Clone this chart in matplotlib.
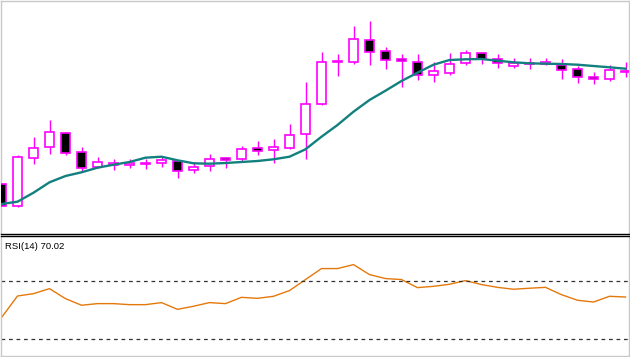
import matplotlib
matplotlib.use("Agg")
import matplotlib.pyplot as plt
import numpy as np

# price data (arbitrary price units)
opens = [56, 33.7, 81.7, 92.7, 106.7, 87.7, 73, 74.7, 75.5, 76.7,
         76.7, 79.5, 69.7, 73.7, 81.7, 80.7, 91.7, 89.7, 91.7, 105.7,
         136.3, 177.7, 178.3, 200, 188.7, 181, 178, 164.7, 167.3, 176.7,
         186.7, 180.7, 174.3, 175.7, 176.2, 175, 170.7, 163.3, 160.7, 168.3]
highs = [56, 85, 103, 120, 108, 93, 83, 81, 80.7, 80.7,
         83, 80, 78.3, 86, 83.3, 94, 99, 100.7, 116, 158,
         188, 186, 214, 219.3, 193, 186, 186, 177.7, 186.7, 189.7,
         187, 186, 182, 181.8, 181.8, 180.7, 174.5, 168.3, 174.7, 178]
lows = [34, 33.5, 75.7, 86.3, 85, 68.3, 72.5, 70.5, 72.5, 70.7,
        73.3, 62.5, 66.7, 69.3, 72.3, 78.7, 85.3, 76.7, 91.5, 81.3,
        135, 164, 176, 175, 171.3, 153.3, 160.3, 157.7, 165.3, 175.3,
        176.3, 172.3, 172.3, 171.2, 175.5, 160.7, 157.3, 155.7, 158.7, 163]
closes = [34.5, 82.7, 92, 107.7, 86.7, 71.7, 77.7, 76.7, 76.7, 75.7,
          80, 68.7, 72.7, 80.7, 79.7, 90.7, 88.7, 92.7, 104.7, 135.7,
          177.7, 178.7, 201, 187.7, 179.7, 178.7, 165.3, 168.7, 175.7, 186.7,
          181.3, 176.7, 177, 177.5, 177.7, 169.7, 162.7, 161, 169.7, 169.5]
ma = [36, 38.3, 47.3, 57.7, 64, 67.7, 72.3, 75.3, 78, 82.3,
      83.3, 79.7, 76.7, 76.3, 77, 78, 79, 80.7, 83.3, 90.7,
      103.3, 115, 128.3, 140, 149.3, 159, 167.3, 175.3, 180, 180.7,
      181, 179.3, 177.7, 176.7, 176.3, 176, 175.3, 174, 172.7, 171.3]
rsi = [44.8, 59.5, 61.1, 64.5, 57.7, 53.2, 54.3, 54.3, 53.6, 53.6,
       55, 50.4, 52.5, 55, 54.3, 58.6, 57.9, 59.3, 63.2, 70.7,
       78.2, 78.2, 80.9, 74.1, 71.4, 70.7, 65.2, 66.1, 67.5, 70,
       67.3, 65.4, 64.1, 64.8, 65.4, 60.4, 56.6, 55.4, 59.3, 58.8]
rsi_levels = [70, 30]
rsi_label = "RSI(14) 70.02"

W, H = 630, 357
fig = plt.figure(figsize=(W / 100, H / 100), dpi=100)
fig.patch.set_facecolor("white")

grey = "#c8c8c8"
magenta = "#ff00ff"


def px_axes(left, top, right, bottom):
    return fig.add_axes([left / W, 1 - bottom / H, (right - left) / W, (bottom - top) / H])


ax = px_axes(1, 0.5, 629, 234.3)
ax2 = px_axes(1, 236.3, 629, 355.7)

x = np.arange(len(opens))
xlim = ((1 - 1.5) / 16, (629 - 1.5) / 16)

# candles
ax.vlines(x, lows, highs, color=magenta, linewidth=1.0, zorder=2)
o = np.array(opens)
c = np.array(closes)
up = c >= o
bottoms = np.minimum(o, c)
heights = np.abs(c - o)
ax.bar(x[up], heights[up], bottom=bottoms[up], width=0.58,
       facecolor="white", edgecolor=magenta, linewidth=1.2, zorder=3)
ax.bar(x[~up], heights[~up], bottom=bottoms[~up], width=0.58,
       facecolor="black", edgecolor=magenta, linewidth=1.2, zorder=3)

ax.plot(x, ma, color="#138080", linewidth=1.7, zorder=4)

ax.set_xlim(*xlim)
ax.set_ylim(5.7, 239.5)

# RSI panel
ax2.plot(x, rsi, color="#e5780a", linewidth=1.0)
for lvl in rsi_levels:
    ax2.axhline(lvl, color="#333333", linewidth=0.9, linestyle=(0, (3, 3)))
ax2.set_xlim(*xlim)
ax2.set_ylim(18.8, 100.2)

for a in (ax, ax2):
    a.set_xticks([])
    a.set_yticks([])
    for s in a.spines.values():
        s.set_color(grey)
        s.set_linewidth(1.0)
ax.spines["bottom"].set_color("black")
ax2.spines["top"].set_color("black")

fig.text(4.7 / W, 1 - 246.3 / H, rsi_label, fontsize=6.8, family="Liberation Sans",
         va="center", ha="left", color="black")

fig.savefig("out.png", dpi=100, facecolor="white")
